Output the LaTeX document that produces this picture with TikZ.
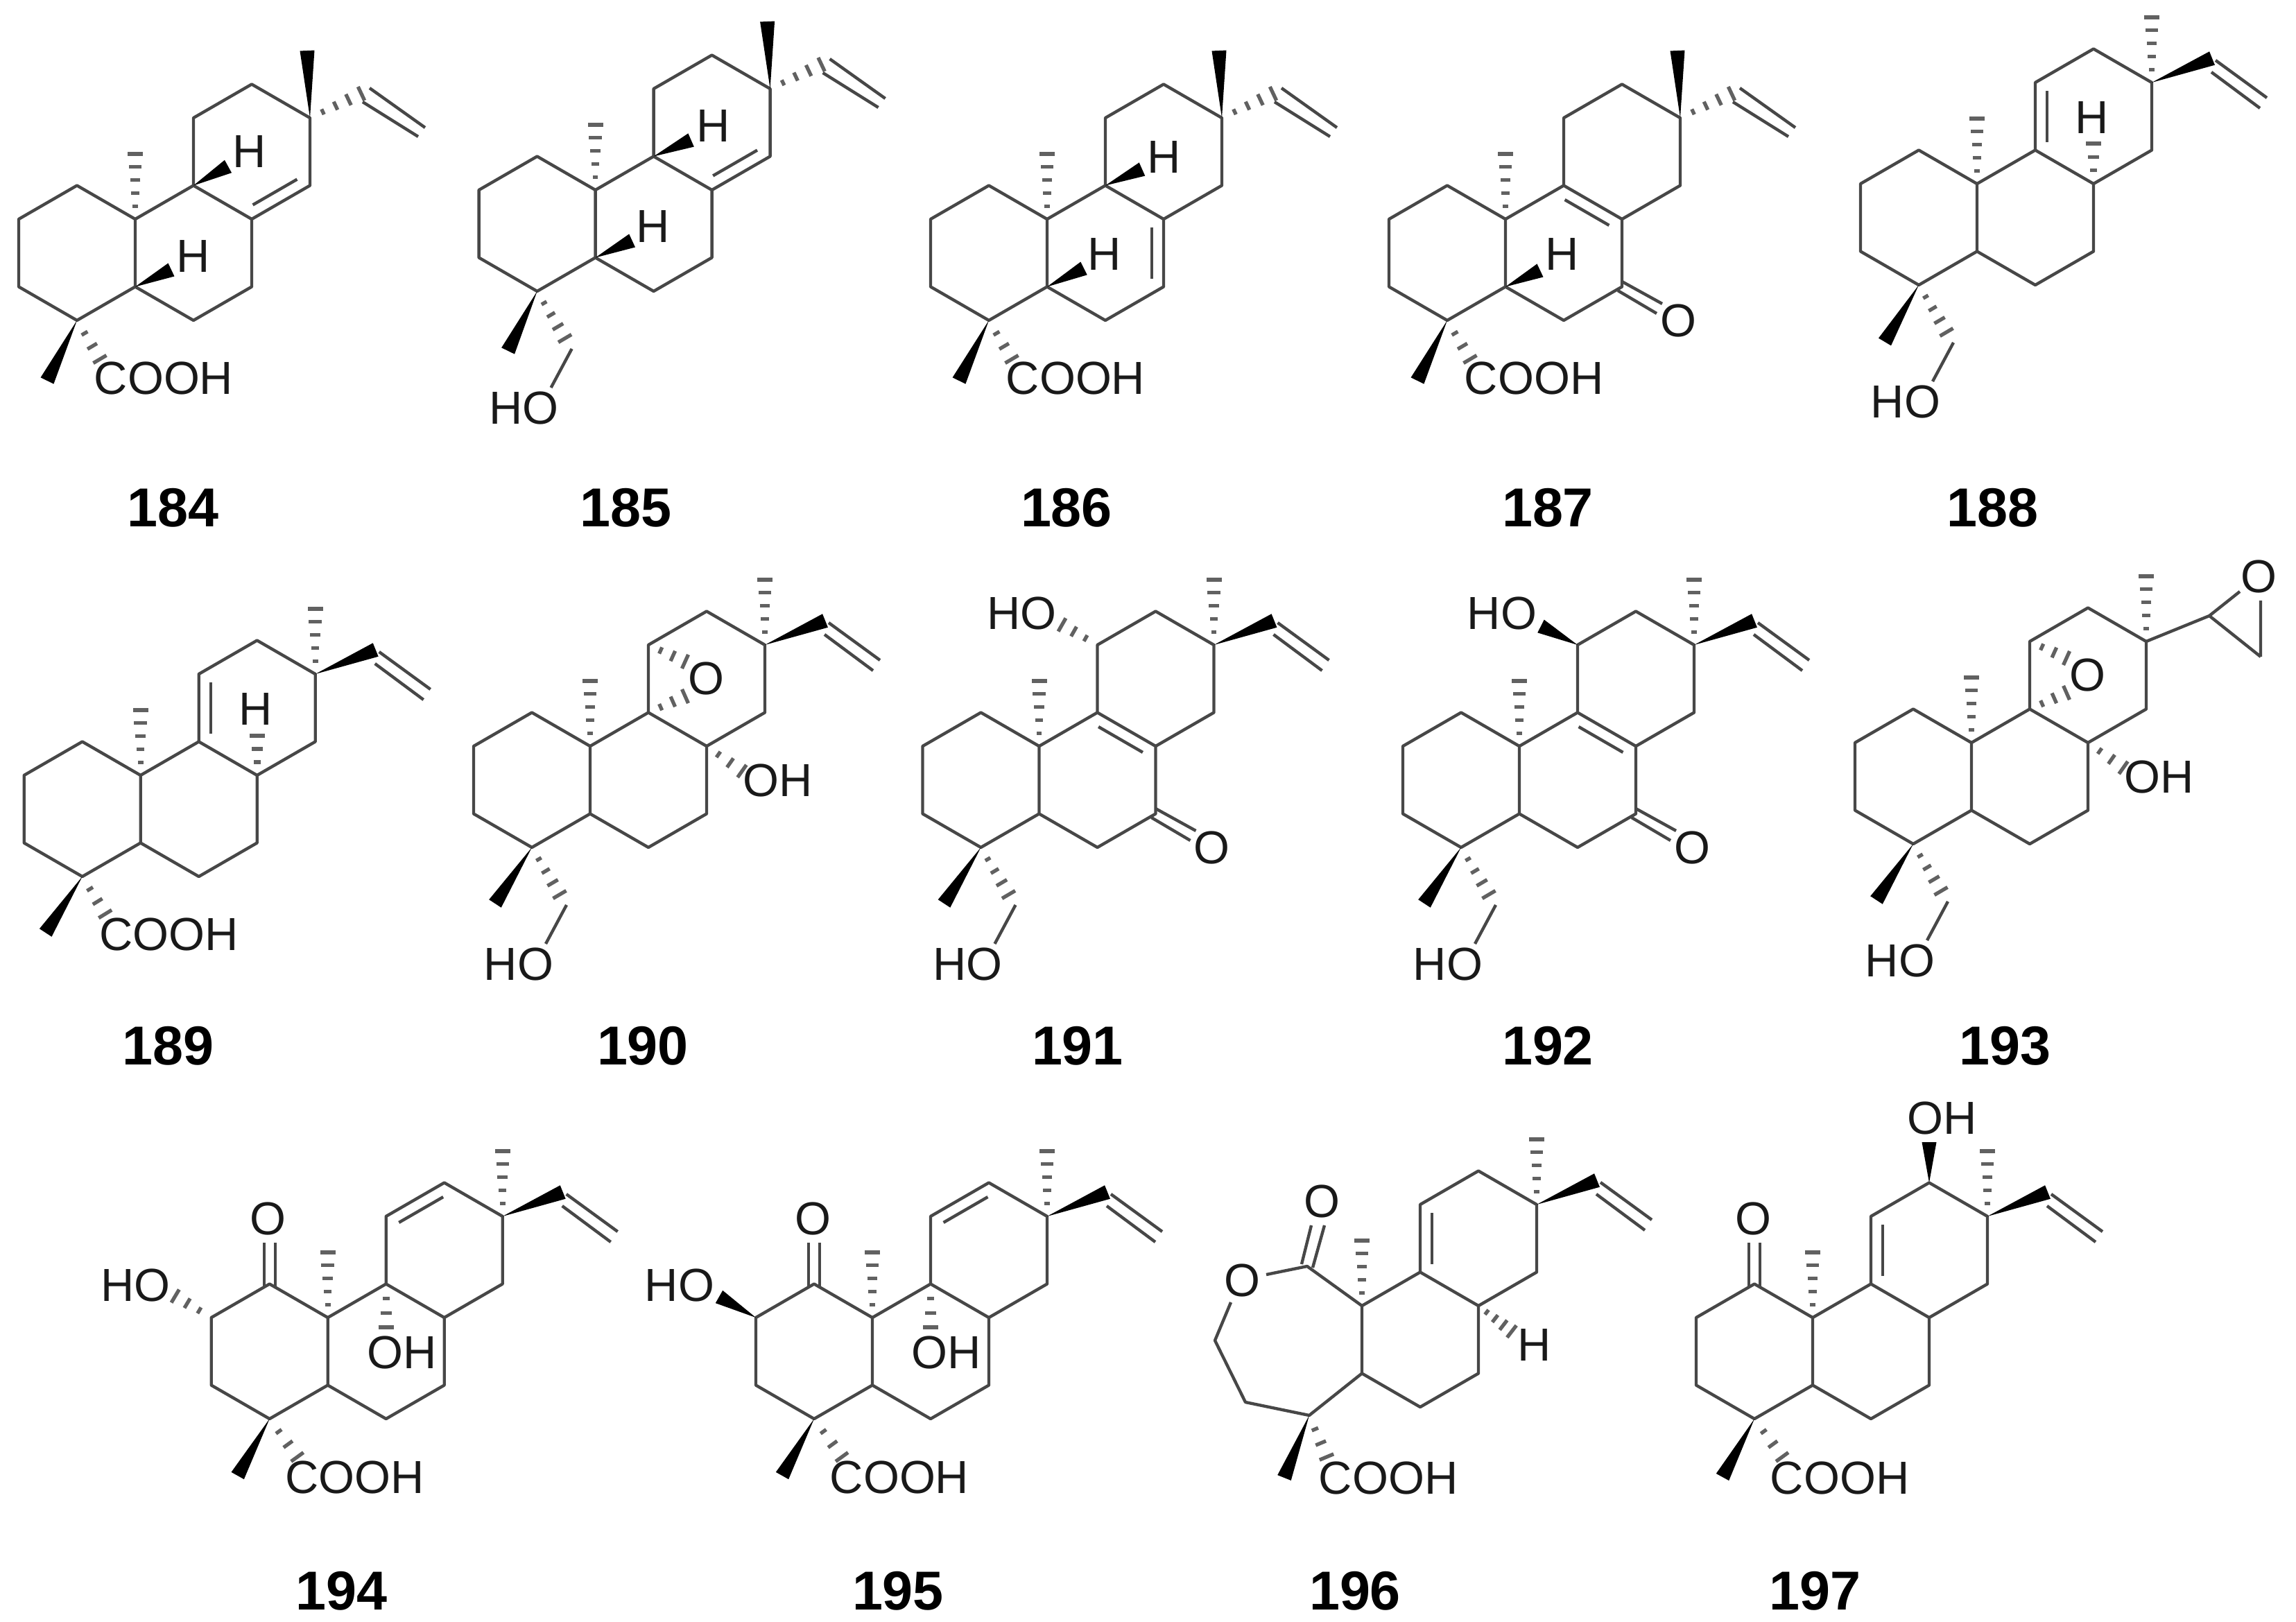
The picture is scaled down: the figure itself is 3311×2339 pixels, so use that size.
\documentclass[tikz,border=0pt]{standalone}
\usepackage{fontspec}
\setmainfont{Liberation Sans}
\usetikzlibrary{calc}
\tikzset{
	bond/.style={line width=1.25pt, color=black!72, line join=round},
	hash/.style={line width=1.5pt, color=black!62},
	wedge/.style={fill=black},
	atom/.style={inner sep=0pt, font=\fontsize{19}{21}\selectfont, color=black!90},
	cmpd/.style={inner sep=0pt, font=\bfseries\fontsize{22.5}{24}\selectfont}
}
\def\wedgebond(#1)(#2){\fill[wedge] (#1) -- ($(#2)!0.105cm!90:(#1)$) -- ($(#2)!0.105cm!-90:(#1)$) -- cycle;}
\def\hashbond[#1](#2)(#3){\foreach \hi in {1,...,#1}{\pgfmathsetmacro{\hf}{\hi/#1}\pgfmathsetmacro{\hw}{0.02+0.09*\hi/#1}\draw[hash] ($(#2)!\hf!(#3)!\hw cm!90:(#2)$) -- ($(#2)!\hf!(#3)!\hw cm!-90:(#2)$);}}
\def\innerbond[#1](#2)(#3){\draw[bond] ($(#2)!0.12!(#3)!0.17cm!#1:(#3)$) -- ($(#3)!0.12!(#2)!0.17cm!#1:(#3)$);}
\def\ringbc{
	\coordinate (c10) at (0,0); \coordinate (c5) at (0,97.5); \coordinate (c6) at (84,146);
	\coordinate (c7) at (168,97.5); \coordinate (c8) at (168,0); \coordinate (c9) at (84,-48.5);
	\coordinate (c11) at (84,-146); \coordinate (c12) at (168,-194.5); \coordinate (c13) at (252,-146);
	\coordinate (c14) at (252,-48.5); \coordinate (me10) at (0,-94);
	\draw[bond] (c10) -- (c5) -- (c6) -- (c7) -- (c8) -- (c9) -- cycle;
	\draw[bond] (c9) -- (c11) -- (c12) -- (c13) -- (c14) -- (c8);
	\hashbond[5](c10)(me10)
}
\def\ringa{
	\coordinate (c1) at (-84,-48.5); \coordinate (c2) at (-168,0);
	\coordinate (c3) at (-168,97.5); \coordinate (c4) at (-84,146);
	\draw[bond] (c10) -- (c1) -- (c2) -- (c3) -- (c4) -- (c5);
}
\def\mewedge{\coordinate (me13) at (248,-243); \wedgebond(c13)(me13)}
\def\mehash{\coordinate (me13) at (252,-240); \hashbond[5](c13)(me13)}
\def\vinylhash{
	\coordinate (v1) at (326,-181); \coordinate (v2) at (338,-189); \coordinate (v3) at (418,-132);
	\coordinate (v4) at (328,-169); \coordinate (v5) at (408,-119);
	\hashbond[4](c13)(v1)
	\draw[bond] (v2) -- (v3) (v4) -- (v5);
}
\def\vinylwedge{
	\coordinate (v1) at (339,-181); \coordinate (v2) at (344,-178); \coordinate (v3) at (418,-124);
	\coordinate (v4) at (338,-161); \coordinate (v5) at (408,-109);
	\wedgebond(c13)(v1)
	\draw[bond] (v2) -- (v3) (v4) -- (v5);
}
\def\acid(#1)(#2)(#3){
	\coordinate (me4) at (#1); \coordinate (a4) at (#2);
	\wedgebond(c4)(me4)
	\hashbond[3](c4)(a4)
	\node[atom] (cooh) at (#3) {COOH};
}
\def\carbinol(#1){
	\coordinate (me4) at (#1); \coordinate (a4) at (-44,214); \coordinate (a5) at (-34,229); \coordinate (a6) at (-64,285);
	\wedgebond(c4)(me4)
	\hashbond[4](c4)(a4)
	\draw[bond] (a5) -- (a6);
	\node[atom] (ho4) at (-103,314) {HO};
}
\def\ketone{
	\coordinate (k1) at (168,90); \coordinate (k2) at (226,122);
	\coordinate (k3) at (162,103); \coordinate (k4) at (218,136);
	\draw[bond] (k1) -- (k2) (k3) -- (k4);
	\node[atom] (o7) at (249,146) {O};
}
\def\oxirane{
	\coordinate (e1) at (137,-122); \coordinate (e2) at (137,-72); \coordinate (e3) at (219,36);
	\hashbond[3](c11)(e1)
	\hashbond[3](c9)(e2)
	\hashbond[3](c8)(e3)
	\node[atom] (o9) at (167,-98) {O};
	\node[atom] (oh8) at (271,49) {OH};
}
\def\oxoone{
	\coordinate (k1) at (-92,-45); \coordinate (k2) at (-92,-108);
	\coordinate (k3) at (-76,-45); \coordinate (k4) at (-76,-108);
	\draw[bond] (k1) -- (k2) (k3) -- (k4);
	\node[atom] (o1) at (-86,-143) {O};
}

\begin{document}
\begin{tikzpicture}[x=0.01cm, y=-0.01cm]
	\useasboundingbox (0,0) rectangle (3311,2339);
	%%%%% 184 %%%%%
	\begin{scope}[shift={(195,316)}]
		\ringbc \ringa \mewedge \vinylhash
		\innerbond[90](c8)(c14)
		\coordinate (t9) at (134,-76); \wedgebond(c9)(t9)
		\node[atom] (h9) at (165,-97) {H};
		\coordinate (t5) at (52,73); \wedgebond(c5)(t5)
		\node[atom] (h5) at (84,54) {H};
		\acid(-127,233)(-51,202)(41,229)
	\end{scope}
	%%%%% 185 %%%%%
	\begin{scope}[shift={(858.6,274)}]
		\ringbc \ringa \mewedge \vinylhash
		\innerbond[90](c8)(c14)
		\coordinate (t9) at (138,-72); \wedgebond(c9)(t9)
		\node[atom] (h9) at (170,-92) {H};
		\coordinate (t5) at (53,73); \wedgebond(c5)(t5)
		\node[atom] (h5) at (83,53) {H};
		\carbinol(-126,232)
	\end{scope}
	%%%%% 186 %%%%%
	\begin{scope}[shift={(1510,316)}]
		\ringbc \ringa \mewedge \vinylhash
		\innerbond[-90](c8)(c7)
		\coordinate (t9) at (137,-72); \wedgebond(c9)(t9)
		\node[atom] (h9) at (169,-89) {H};
		\coordinate (t5) at (53,71); \wedgebond(c5)(t5)
		\node[atom] (h5) at (83,51) {H};
		\acid(-127,233)(-51,202)(41,229)
	\end{scope}
	%%%%% 187 %%%%%
	\begin{scope}[shift={(2171,316)}]
		\ringbc \ringa \mewedge \vinylhash
		\innerbond[-90](c9)(c8)
		\coordinate (t5) at (50,74); \wedgebond(c5)(t5)
		\node[atom] (h5) at (82,51) {H};
		\ketone
		\acid(-127,233)(-51,202)(41,229)
	\end{scope}
	%%%%% 188 %%%%%
	\begin{scope}[shift={(2851,265)}]
		\ringbc \ringa \mehash \vinylwedge
		\innerbond[-90](c9)(c11)
		\coordinate (t8) at (168,-58); \hashbond[3](c8)(t8)
		\node[atom] (h8) at (166,-95) {H};
		\carbinol(-133,228)
	\end{scope}
	%%%%% 189 %%%%%
	\begin{scope}[shift={(202.7,1118)}]
		\ringbc \ringa \mehash \vinylwedge
		\innerbond[-90](c9)(c11)
		\coordinate (t8) at (168,-57); \hashbond[3](c8)(t8)
		\node[atom] (h8) at (166,-95) {H};
		\acid(-137,227)(-51,200)(41,229)
	\end{scope}
	%%%%% 190 %%%%%
	\begin{scope}[shift={(851,1076)}]
		\ringbc \ringa \mehash \vinylwedge \oxirane
		\carbinol(-137,227)
	\end{scope}
	%%%%% 191 %%%%%
	\begin{scope}[shift={(1498.5,1076)}]
		\ringbc \ringa \mehash \vinylwedge \ketone
		\innerbond[-90](c9)(c8)
		\coordinate (t11) at (33,-175); \hashbond[3](c11)(t11)
		\node[atom] (ho11) at (-25,-192) {HO};
		\carbinol(-137,227)
	\end{scope}
	%%%%% 192 %%%%%
	\begin{scope}[shift={(2191,1076)}]
		\ringbc \ringa \mehash \vinylwedge \ketone
		\innerbond[-90](c9)(c8)
		\coordinate (t11) at (31,-173); \wedgebond(c11)(t11)
		\node[atom] (ho11) at (-25,-192) {HO};
		\carbinol(-137,227)
	\end{scope}
	%%%%% 193 %%%%%
	\begin{scope}[shift={(2843,1071)}]
		\ringbc \ringa \mehash \oxirane
		\coordinate (s1) at (343,-183); \coordinate (s2) at (417,-124);
		\coordinate (s3) at (387,-218); \coordinate (s4) at (417,-205);
		\draw[bond] (c13) -- (s1) -- (s2) (s1) -- (s3) (s2) -- (s4);
		\node[atom] (o16) at (414,-240) {O};
		\carbinol(-137,227)
	\end{scope}
	%%%%% 194 %%%%%
	\begin{scope}[shift={(472.7,1900)}]
		\ringbc \ringa \mehash \vinylwedge \oxoone
		\innerbond[-90](c11)(c12)
		\coordinate (t2) at (-220,-31); \hashbond[3](c2)(t2)
		\node[atom] (ho2) at (-277,-47) {HO};
		\coordinate (t9) at (84,14); \hashbond[3](c9)(t9)
		\node[atom] (oh9) at (107,50) {OH};
		\acid(-130,228)(-44,201)(39,230)
	\end{scope}
	%%%%% 195 %%%%%
	\begin{scope}[shift={(1258,1900)}]
		\ringbc \ringa \mehash \vinylwedge \oxoone
		\innerbond[-90](c11)(c12)
		\coordinate (t2) at (-221,-30); \wedgebond(c2)(t2)
		\node[atom] (ho2) at (-278,-47) {HO};
		\coordinate (t9) at (84,14); \hashbond[3](c9)(t9)
		\node[atom] (oh9) at (107,50) {OH};
		\acid(-130,228)(-44,201)(39,230)
	\end{scope}
	%%%%% 196 %%%%%
	\begin{scope}[shift={(1964,1883)}]
		\ringbc \mehash \vinylwedge
		\innerbond[-90](c9)(c11)
		\coordinate (c1) at (-79,-57); \coordinate (c4) at (-76,158);
		\coordinate (r1) at (-138,-45); \coordinate (r2) at (-189,-5);
		\coordinate (r3) at (-212,50); \coordinate (r4) at (-168,139);
		\draw[bond] (c10) -- (c1) -- (r1) (r2) -- (r3) -- (r4) -- (c4) -- (c5);
		\node[atom] (o19) at (-173,-37) {O};
		\coordinate (k1) at (-87,-60); \coordinate (k2) at (-73,-116);
		\coordinate (k3) at (-71,-55); \coordinate (k4) at (-54,-116);
		\draw[bond] (k1) -- (k2) (k3) -- (k4);
		\node[atom] (o20) at (-58,-151) {O};
		\coordinate (t8) at (216,37); \hashbond[4](c8)(t8)
		\node[atom] (h8) at (249,56) {H};
		\acid(-112,248)(-51,218)(38,248)
	\end{scope}
	%%%%% 197 %%%%%
	\begin{scope}[shift={(2614,1900)}]
		\ringbc \ringa \mehash \vinylwedge \oxoone
		\innerbond[-90](c9)(c11)
		\coordinate (t12) at (168,-253); \wedgebond(c12)(t12)
		\node[atom] (oh12) at (187,-288) {OH};
		\acid(-130,230)(-44,201)(39,231)
	\end{scope}
	%%%%% NUMBERS %%%%%
	\node[cmpd] (n184) at (250,732) {184};
	\node[cmpd] (n185) at (903,732) {185};
	\node[cmpd] (n186) at (1538,732) {186};
	\node[cmpd] (n187) at (2232,732) {187};
	\node[cmpd] (n188) at (2873,732) {188};
	\node[cmpd] (n189) at (243,1508) {189};
	\node[cmpd] (n190) at (927,1508) {190};
	\node[cmpd] (n191) at (1554,1508) {191};
	\node[cmpd] (n192) at (2232,1508) {192};
	\node[cmpd] (n193) at (2891,1508) {193};
	\node[cmpd] (n194) at (493,2294) {194};
	\node[cmpd] (n195) at (1295,2294) {195};
	\node[cmpd] (n196) at (1954,2294) {196};
	\node[cmpd] (n197) at (2617,2294) {197};
\end{tikzpicture}
\end{document}
